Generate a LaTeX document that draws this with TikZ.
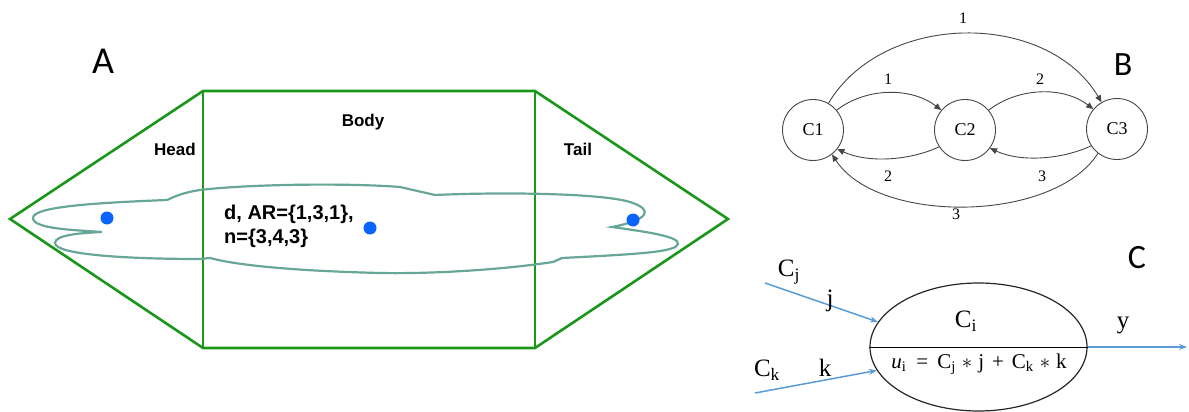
\documentclass[tikz,border=0pt]{standalone}
\usepackage{fontspec}
\setmainfont{Liberation Serif}
\newfontfamily\carl{Carlito}
\newfontfamily\arialf{Liberation Sans}
\usetikzlibrary{arrows.meta,shapes.geometric}
\definecolor{boxgreen}{RGB}{26,150,26}
\definecolor{fishteal}{RGB}{104,166,152}
\definecolor{dotblue}{RGB}{10,100,250}
\definecolor{edgegray}{RGB}{70,70,70}
\definecolor{arrowblue}{RGB}{91,155,213}
\tikzset{
  outline/.style={draw=boxgreen,line width=2.6pt,line join=miter},
  fish/.style={draw=fishteal,line width=2.2pt},
  dot/.style={fill=dotblue},
  partlabel/.style={font=\carl\fontsize{34}{36}\selectfont,inner sep=0pt},
  seglabel/.style={font=\arialf\bfseries\fontsize{17}{20}\selectfont,inner sep=0pt},
  state/.style={draw=edgegray,line width=0.9pt,circle,minimum size=61pt,inner sep=0pt,font=\fontsize{18}{20}\selectfont},
  trans/.style={draw=edgegray,line width=0.9pt,-{Triangle[length=7pt,width=6pt]}},
  weight/.style={font=\fontsize{16}{18}\selectfont,inner sep=0pt},
  flow/.style={draw=arrowblue,line width=1.5pt,-{Stealth[length=8pt,width=6pt]}},
  clabel/.style={font=\fontsize{25}{27}\selectfont,inner sep=0pt},
}
\begin{document}
\begin{tikzpicture}[x=1pt,y=-1pt]
\useasboundingbox (0,0) rectangle (1189,412);
% ---------------- A ----------------
\node[partlabel,font=\carl\fontsize{38}{40}\selectfont] (labA) at (103,61) {A};
\draw[outline] (10,219) -- (203,91) -- (535,91) -- (728,219) -- (535,348) -- (203,348) -- cycle;
\draw[outline] (203,91) -- (203,348);
\draw[outline] (535,91) -- (535,348);
\node[seglabel] (head) at (175,149) {Head};
\node[seglabel] (body) at (363,122) {Body};
\node[seglabel] (tail) at (578,149) {Tail};
\draw[fish] (102,232)
  .. controls (75,230) and (33,229) .. (33,218)
  .. controls (33,207) and (90,203) .. (167,200)
  .. controls (172,198) and (180,193) .. (200,190)
  .. controls (250,184) and (350,183) .. (400,187)
  -- (435,195)
  .. controls (500,192) and (600,193) .. (630,202)
  .. controls (655,210) and (648,220) .. (612,227)
  .. controls (640,231) and (680,236) .. (678,244)
  .. controls (676,252) and (640,254) .. (562,258)
  -- (553,262)
  .. controls (500,270) and (430,274) .. (380,273)
  .. controls (300,271) and (240,266) .. (210,258)
  -- (200,259)
  .. controls (130,259) and (55,255) .. (55,243)
  .. controls (55,235) and (80,233) .. (102,232);
\fill[dot] (107,218) circle (6.5);
\fill[dot] (370,228) circle (6.5);
\fill[dot] (633,220) circle (6.5);
\node[anchor=west,align=left,inner sep=0pt,font=\arialf\bfseries\fontsize{20}{24}\selectfont] (params) at (224,226) {d, AR=\{1,3,1\},\\n=\{3,4,3\}};
% ---------------- B ----------------
\node[partlabel] (labB) at (1123,65) {B};
\node[state] (c1) at (813,130) {C1};
\node[state] (c2) at (965,130) {C2};
\node[state] (c3) at (1117,129) {C3};
\draw[trans] (c1.40) .. controls +(30,-23) and +(-30,-23) .. (c2.140);
\draw[trans] (c2.40) .. controls +(30,-23) and +(-30,-23) .. (c3.140);
\draw[trans] (c1.60) .. controls +(55,-92) and +(-55,-92) .. (c3.120);
\draw[trans] (c2.213) .. controls +(-30,14) and +(30,14) .. (c1.322);
\draw[trans] (c3.213) .. controls +(-30,14) and +(30,14) .. (c2.324);
\draw[trans] (c3.232) .. controls +(-45,70) and +(45,70) .. (c1.308);
\node[weight] (w12) at (888,79) {1};
\node[weight] (w23) at (1040,79) {2};
\node[weight] (w13) at (963,18) {1};
\node[weight] (w21) at (888,176) {2};
\node[weight] (w32) at (1042,176) {3};
\node[weight] (w31) at (956,214) {3};
% ---------------- C ----------------
\node[partlabel] (labC) at (1137,258) {C};
\node[draw=black!85,line width=1.2pt,ellipse,minimum width=217pt,minimum height=128pt,inner sep=0pt] (ci) at (978.5,347) {};
\draw[black,line width=1pt] (ci.west) -- (ci.east);
\node[clabel] (citext) at (966,321) {C\textsubscript{i}};
\node[inner sep=0pt,font=\fontsize{21}{23}\selectfont] (eq) at (979,364) {\textit{u}\textsubscript{i}\hspace{10pt}=\hspace{9pt}C\textsubscript{j}\hspace{6pt}$\ast$\hspace{6pt}j\hspace{8pt}+\hspace{8pt}C\textsubscript{k}\hspace{6pt}$\ast$\hspace{6pt}k};
\coordinate (cjin) at (765,283);
\coordinate (ckin) at (755,393);
\coordinate (yout) at (1187,347);
\draw[flow] (cjin) -- (ci.166);
\draw[flow] (ckin) -- (ci.193);
\draw[flow] (ci.east) -- (yout);
\node[clabel] (cjl) at (789,272) {C\textsubscript{j}};
\node[clabel] (jl) at (830,301) {j};
\node[clabel] (ckl) at (767,370) {C\textsubscript{k}};
\node[clabel] (kl) at (825,368) {k};
\node[clabel] (yl) at (1123,325) {y};
\end{tikzpicture}
\end{document}
